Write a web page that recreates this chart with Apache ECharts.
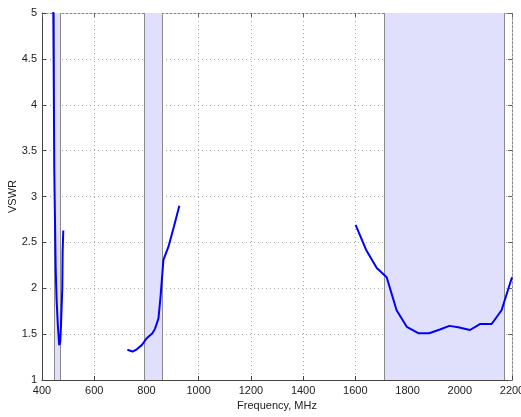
<!DOCTYPE html>
<html>
<head>
<meta charset="utf-8">
<script src="https://cdn.jsdelivr.net/npm/echarts@6/dist/echarts.min.js"></script>
<style>html,body{margin:0;padding:0;background:#fff}#c{width:521px;height:417px}</style>
</head>
<body>
<div id="c"></div>
<script>
var xTicks = [400, 600, 800, 1000, 1200, 1400, 1600, 1800, 2000, 2200];
var yTicks = [1, 1.5, 2, 2.5, 3, 3.5, 4, 4.5, 5];
var bandStart = [447, 792, 1710];
var bandEnd = [471, 862, 2170];

var band1Freq = [442, 443.3, 444.8, 446, 447, 448.6, 452.5, 456, 461, 466, 470, 472.8, 477.7, 479, 481.6];
var band1Vswr = [5.3, 5.0, 4.35, 3.8, 3.3, 2.96, 2.2, 1.87, 1.58, 1.38, 1.42, 1.6, 2.0, 2.4, 2.63];

var band2Freq = [727, 747, 763, 782, 801, 823, 833, 846, 854, 865, 884, 905, 926];
var band2Vswr = [1.33, 1.31, 1.335, 1.38, 1.455, 1.51, 1.56, 1.67, 1.91, 2.31, 2.45, 2.67, 2.9];

var band3Freq = [1601, 1641, 1682, 1720, 1758, 1797, 1841, 1883, 1924, 1960, 1994, 2039, 2077, 2122, 2160, 2200];
var band3Vswr = [2.69, 2.42, 2.22, 2.12, 1.76, 1.58, 1.51, 1.51, 1.55, 1.59, 1.575, 1.545, 1.61, 1.61, 1.76, 2.12];

function pairs(xs, ys) { return xs.map(function (x, i) { return [x, ys[i]]; }); }

var font = 'Liberation Sans, Arial, sans-serif';
var chart = echarts.init(document.getElementById('c'));
var bands = bandStart.map(function (s, i) { return [{ xAxis: s }, { xAxis: bandEnd[i] }]; });
var edges = bandStart.concat(bandEnd).map(function (v) { return { xAxis: v }; });

var lineStyle = { color: '#0000ff', width: 2 };
chart.setOption({
  animation: false,
  grid: { left: 42, right: 9, top: 13, bottom: 37, containLabel: false, outerBoundsMode: 'none' },
  xAxis: [{
    type: 'value', min: xTicks[0], max: xTicks[xTicks.length - 1], interval: 200,
    name: 'Frequency, MHz', nameLocation: 'middle', nameGap: 20, nameMoveOverlap: false,
    nameTextStyle: { fontFamily: font, fontSize: 11, color: '#222' },
    axisLine: { show: true, lineStyle: { color: '#444', width: 1 } },
    axisTick: { show: true, inside: true, length: 4, lineStyle: { color: '#444' } },
    axisLabel: { fontFamily: font, fontSize: 11, color: '#222', margin: 5, formatter: function (v) { return String(v); } },
    splitLine: { show: true, lineStyle: { color: '#aaa', type: [1, 3], width: 1 } }
  }, {
    type: 'value', position: 'top', min: xTicks[0], max: xTicks[xTicks.length - 1], interval: 200,
    axisLine: { show: true, lineStyle: { color: '#888', width: 1, type: [2, 2] } },
    axisTick: { show: true, inside: true, length: 4, lineStyle: { color: '#666' } },
    axisLabel: { show: false }, splitLine: { show: false }
  }],
  yAxis: [{
    type: 'value', min: yTicks[0], max: yTicks[yTicks.length - 1], interval: 0.5,
    name: 'VSWR', nameLocation: 'middle', nameGap: 24, nameRotate: 90, nameMoveOverlap: false,
    nameTextStyle: { fontFamily: font, fontSize: 11, color: '#222' },
    axisLine: { show: true, lineStyle: { color: '#444', width: 1 } },
    axisTick: { show: true, inside: true, length: 4, lineStyle: { color: '#444' } },
    axisLabel: { fontFamily: font, fontSize: 11, color: '#222', margin: 5, formatter: function (v) { return String(v); } },
    splitLine: { show: true, lineStyle: { color: '#aaa', type: [1, 3], width: 1 } }
  }, {
    type: 'value', position: 'right', min: yTicks[0], max: yTicks[yTicks.length - 1], interval: 0.5,
    axisLine: { show: true, lineStyle: { color: '#888', width: 1, type: [2, 2] } },
    axisTick: { show: true, inside: true, length: 4, lineStyle: { color: '#666' } },
    axisLabel: { show: false }, splitLine: { show: false }
  }],
  series: [{
    type: 'line', data: [], silent: true,
    markArea: {
      silent: true,
      itemStyle: { color: 'rgba(224,224,252,1)', borderWidth: 0 },
      data: bands
    },
    markLine: {
      silent: true, symbol: ['none', 'none'], label: { show: false },
      lineStyle: { color: '#8a8a8a', width: 1, type: 'solid' },
      data: edges
    }
  }, {
    type: 'line', data: pairs(band1Freq, band1Vswr), showSymbol: false, lineStyle: lineStyle, clip: true, z: 5
  }, {
    type: 'line', data: pairs(band2Freq, band2Vswr), showSymbol: false, lineStyle: lineStyle, clip: true, z: 5
  }, {
    type: 'line', data: pairs(band3Freq, band3Vswr), showSymbol: false, lineStyle: lineStyle, clip: true, z: 5
  }]
});
</script>
</body>
</html>
